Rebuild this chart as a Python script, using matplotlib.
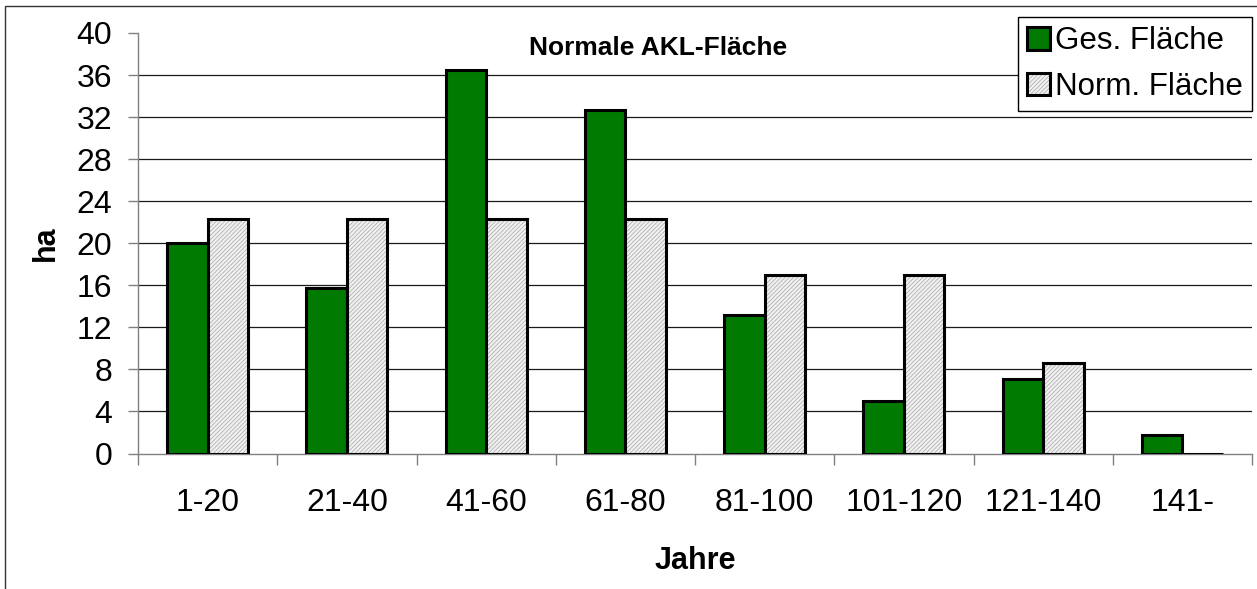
import matplotlib
matplotlib.use("Agg")
import matplotlib.pyplot as plt
from matplotlib.patches import Rectangle
import numpy as np

plt.rcParams['font.family'] = ['Liberation Sans', 'DejaVu Sans']
plt.rcParams['hatch.linewidth'] = 0.5

categories = ["1-20", "21-40", "41-60", "61-80", "81-100", "101-120", "121-140", "141-"]
ges_flaeche = [20.0, 15.7, 36.5, 32.7, 13.2, 5.0, 7.1, 1.8]
norm_flaeche = [22.3, 22.3, 22.3, 22.3, 17.0, 17.0, 8.6, 0.0]
y_ticks = list(range(0, 41, 4))

W, H = 1257, 589
fig = plt.figure(figsize=(W / 100, H / 100), dpi=100)
ax = fig.add_axes([138 / W, 1 - 453.5 / H, (1252 - 138) / W, (453.5 - 33) / H])

n = len(categories)
x = np.arange(n)
bw = 0.29
green = '#007a00'

b1 = ax.bar(x + 0.5 - bw / 2, ges_flaeche, width=bw, color=green,
            edgecolor='black', linewidth=2.2, zorder=3)
b2h = ax.bar(x + 0.5 + bw / 2, norm_flaeche, width=bw, color='#f0f0f0',
             edgecolor='#a8a8a8', linewidth=0, hatch='////////', zorder=3)
b2o = ax.bar(x + 0.5 + bw / 2, norm_flaeche, width=bw, fill=False,
             edgecolor='black', linewidth=2.2, zorder=4)

ax.set_xlim(0, n)
ax.set_ylim(0, 40)

# category boundaries as major ticks, labels centered on minor ticks
ax.set_xticks(np.arange(n + 1))
ax.set_xticklabels([])
ax.set_xticks(x + 0.5, minor=True)
ax.set_xticklabels(categories, minor=True, fontsize=23)
ax.tick_params(axis='x', which='major', length=8, width=1, color='#808080', direction='out')
ax.tick_params(axis='x', which='minor', length=0, pad=25)

ax.set_yticks(y_ticks)
ax.set_yticklabels([str(v) for v in y_ticks], fontsize=23)
ax.tick_params(axis='y', length=7.5, width=1, color='#808080', pad=11)

for yv in y_ticks[1:-1]:
    ax.axhline(yv, color='#1a1a1a', linewidth=0.9, zorder=1)

for side in ('top', 'right'):
    ax.spines[side].set_visible(False)
for side in ('left', 'bottom'):
    ax.spines[side].set_color('#808080')
    ax.spines[side].set_linewidth(1.0)

ax.set_xlabel("Jahre", fontsize=22, fontweight='bold', labelpad=20)
ax.set_ylabel("ha", fontsize=22, fontweight='bold', labelpad=11)

fig.text(658 / W, 1 - 55 / H, "Normale AKL-Fläche", fontsize=19,
         fontweight='bold', ha='center', va='baseline')

leg = fig.legend([b1[0], (b2h[0], b2o[0])], ["Ges. Fläche", "Norm. Fläche"],
                 loc='upper left', bbox_to_anchor=(1018 / W, 1 - 17 / H),
                 fontsize=22.5, frameon=True, fancybox=False, framealpha=1,
                 edgecolor='black', handlelength=0.72, handleheight=0.72,
                 handletextpad=0.15, labelspacing=0.5, borderpad=0.3,
                 borderaxespad=0)
leg.get_frame().set_linewidth(1.0)

# outer chart frame
fig.patches.append(Rectangle((4.5 / W, -0.5), 2.0, 1.5 - 5.5 / H,
                             transform=fig.transFigure, fill=False,
                             edgecolor='#333333', linewidth=1.0))

fig.savefig("out.png", dpi=100)
